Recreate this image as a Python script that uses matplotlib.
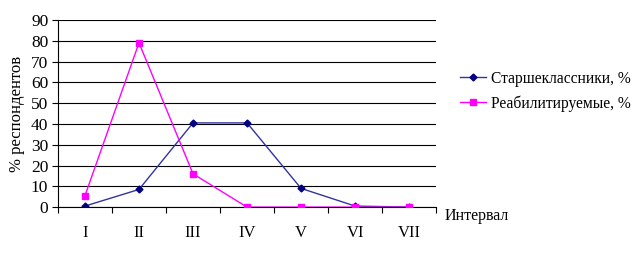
import numpy as np
import matplotlib.pyplot as plt

categories = ['I', 'II', 'III', 'IV', 'V', 'VI', 'VII']
seniors = [0.5, 8.5, 40.5, 40.5, 9, 0.5, 0]
rehab = [5.5, 79, 16, 0, 0, 0, 0]

plt.rcParams['font.family'] = ['Liberation Serif', 'DejaVu Serif']

fig = plt.figure(figsize=(6.42, 2.56), dpi=100)
ax = fig.add_axes([0.0903, 0.191, 0.589, 0.731])

x = np.arange(len(categories))
ax.plot(x, seniors, color='#3333a0', lw=1, marker='D', ms=3.5,
        mfc='#000080', mec='#000080', label='Старшеклассники, %', zorder=2)
ax.plot(x, rehab, color='#ff00ff', lw=1, marker='s', ms=4.5,
        mfc='#ff00ff', mec='#ff00ff', label='Реабилитируемые, %', zorder=3)

ax.set_xlim(-0.5, len(categories) - 0.5)
ax.set_ylim(0, 90)
ax.set_yticks(range(0, 91, 10))
ax.yaxis.grid(True, color='black', lw=0.8)
ax.set_axisbelow(True)

ax.set_xticks(x)
ax.set_xticklabels(categories, fontsize=12)
ax.set_xticks(np.arange(-0.5, len(categories), 1), minor=True)
ax.tick_params(axis='x', which='major', length=0, pad=13)
ax.tick_params(axis='x', which='minor', length=4, direction='out', width=0.8)
ax.tick_params(axis='y', length=4, width=0.8, labelsize=12.5, pad=3)

for s in ['top', 'right']:
    ax.spines[s].set_visible(False)
ax.spines['left'].set_linewidth(0.8)
ax.spines['bottom'].set_linewidth(0.8)

ax.set_ylabel('% респондентов', fontsize=12, labelpad=4)
fig.text(0.693, 0.157, 'Интервал', fontsize=11.5, ha='left', va='center')

ax.legend(loc='center left', bbox_to_anchor=(1.025, 0.62), frameon=False,
          fontsize=11.2, handlelength=1.7, handletextpad=0.3, labelspacing=0.55)

fig.savefig('out.png', dpi=100)
